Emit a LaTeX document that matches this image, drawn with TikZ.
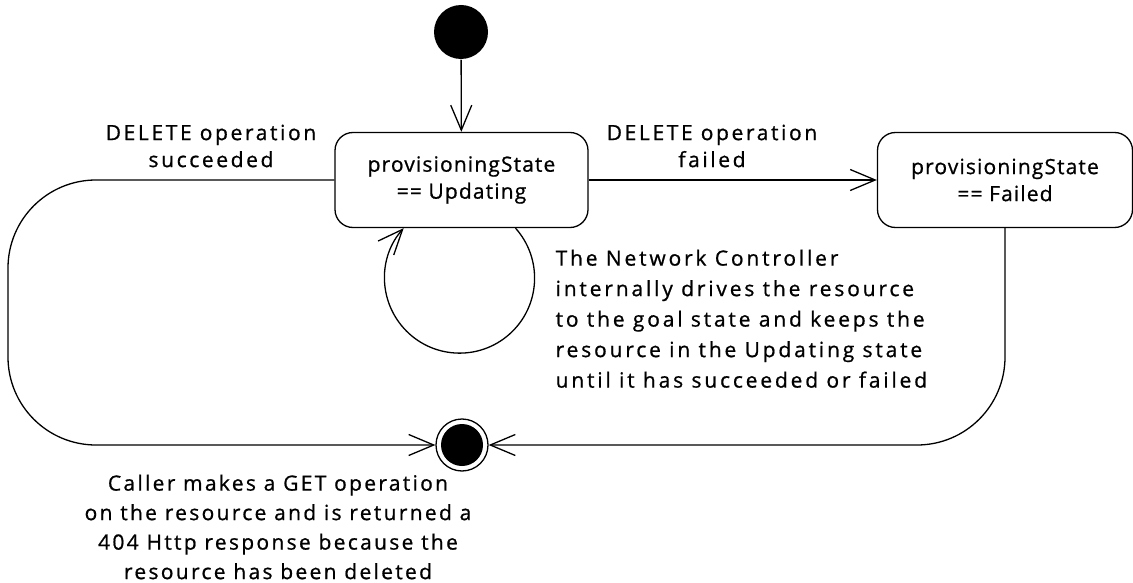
\documentclass[tikz,border=0pt]{standalone}
\usepackage{fontspec}
\setmainfont{Open Sans}
\newfontfamily\statefont[LetterSpace=5.4,FakeBold=0.8]{Open Sans}
\newfontfamily\lblfont[LetterSpace=12.5,FakeBold=0.8]{Open Sans}
\newfontfamily\notefont[LetterSpace=13.5,FakeBold=0.8]{Open Sans}
\newfontfamily\bfont[LetterSpace=11,FakeBold=0.8]{Open Sans}
\usetikzlibrary{arrows.meta}
\begin{document}
\begin{tikzpicture}[x=1pt,y=-1pt,
  line width=1.3pt,
  state/.style={draw, rounded corners=18pt, minimum width=253pt, minimum height=95pt, align=center, inner sep=0pt, font=\statefont\fontsize{21}{27}\selectfont},
  lbl/.style={align=center, inner sep=0pt, font=\lblfont\fontsize{21}{27}\selectfont},
  note/.style={align=left, inner sep=0pt, font=\notefont\fontsize{21}{30.5}\selectfont},
  bnote/.style={align=center, inner sep=0pt, font=\bfont\fontsize{21}{29.5}\selectfont},
  arr/.style={-{Straight Barb[length=25pt,width=21pt,line width=1.3pt]}},
]
\useasboundingbox (0,0) rectangle (1133,583);
\node[circle, fill, minimum size=54pt, inner sep=0pt] (init) at (461,32) {};
\node[state] (upd) at (461.5,180) {provisioningState\\== Updating};
\node[state, minimum width=255pt] (fail) at (1005,180) {provisioningState\\== Failed};
\node[circle, draw, minimum size=52pt, inner sep=0pt] (final) at (462,445) {};
\fill (final.center) circle (21);

\draw[arr] (init) -- (upd);
\draw[arr] (upd.east) -- (fail.west);
\draw[arr] ([xshift=54pt]upd.south) arc[start angle=-41.8, end angle=221.8, radius=75];
\draw[arr, rounded corners=88pt] (upd.west) -- (8,180) -- (8,445) -- (final.west);
\draw[arr, rounded corners=88pt] (fail.south) |- (final.east);

\node[lbl] (lsucc) at (211,146) {DELETE operation\\succeeded};
\node[lbl] (lfail) at (712,146) {DELETE operation\\failed};
\node[note, anchor=north west] (nloop) at (555,249) {The Network Controller\\internally drives the resource\\to the goal state and keeps the\\resource in the Updating state\\until it has succeeded or failed};
\node[bnote, anchor=north] (nfinal) at (278,474) {Caller makes a GET operation\\on the resource and is returned a\\404 Http response because the\\resource has been deleted};
\end{tikzpicture}
\end{document}
